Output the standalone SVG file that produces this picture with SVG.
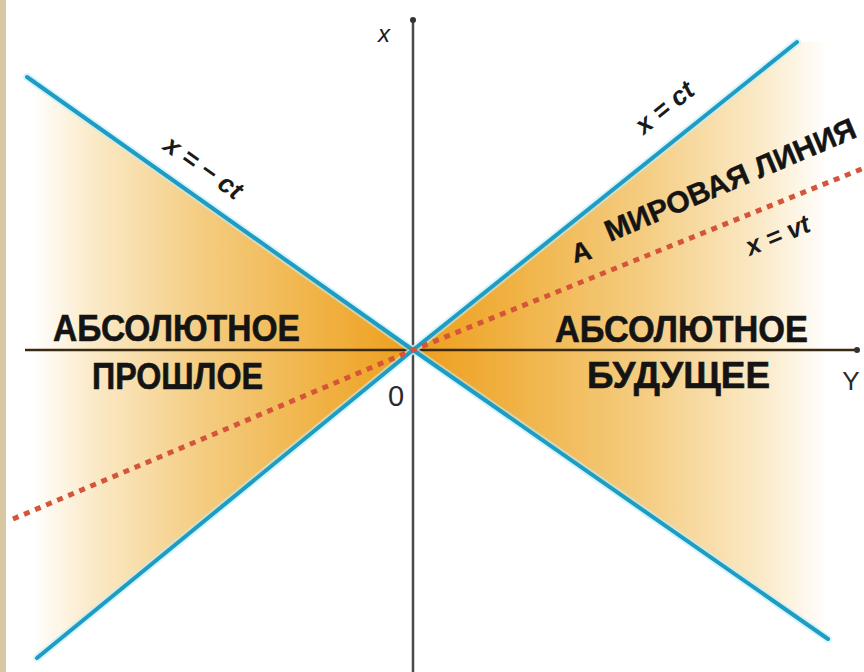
<svg xmlns="http://www.w3.org/2000/svg" width="864" height="672" viewBox="0 0 864 672">
  <defs>
    <linearGradient id="gPast" gradientUnits="userSpaceOnUse" x1="32" y1="0" x2="413" y2="0">
      <stop offset="0" stop-color="#FFFFFF"/>
      <stop offset="0.15" stop-color="#FBEBCB"/>
      <stop offset="0.45" stop-color="#F4CC80"/>
      <stop offset="0.78" stop-color="#F0B040"/>
      <stop offset="1" stop-color="#EE9E1C"/>
    </linearGradient>
    <linearGradient id="gFuture" gradientUnits="userSpaceOnUse" x1="413" y1="0" x2="828" y2="0">
      <stop offset="0" stop-color="#EE9E1C"/>
      <stop offset="0.22" stop-color="#F0B040"/>
      <stop offset="0.55" stop-color="#F4CC80"/>
      <stop offset="0.85" stop-color="#FBEBCB"/>
      <stop offset="1" stop-color="#FFFFFF"/>
    </linearGradient>
    <style>
      .cone { stroke: #1E9CC4; stroke-width: 4; stroke-linecap: round; fill: none; }
      .halo { stroke: #BDEFFA; stroke-width: 8; stroke-linecap: round; fill: none; opacity: 0.6; }
      .axis { stroke: #4A4A4A; stroke-width: 2.5; fill: none; }
      .haxis { stroke: #3A2A12; stroke-width: 2.5; fill: none; }
      .world { stroke: #D4553A; stroke-width: 5; stroke-dasharray: 6 6; fill: none; }
      .big { font-family: "Liberation Sans", Arial, sans-serif; font-weight: bold; font-size: 36px; fill: #141414; stroke: #141414; stroke-width: 0.6; }
      .lbl { font-family: "Liberation Sans", Arial, sans-serif; font-weight: bold; font-size: 30px; fill: #141414; stroke: #141414; stroke-width: 0.4; }
      .eq { font-family: "Liberation Sans", Arial, sans-serif; font-style: italic; font-weight: bold; font-size: 26px; fill: #1A1A1A; }
      .ax { font-family: "Liberation Sans", Arial, sans-serif; font-size: 26px; fill: #2A2A2A; }
    </style>
  </defs>

  <rect x="0" y="0" width="864" height="672" fill="#FFFFFF"/>
  <rect x="0" y="0" width="6" height="672" fill="#D8C8A2"/>

  <g id="past-region">
    <polygon points="27,77 413,350 37,658" fill="url(#gPast)"/>
  </g>
  <g id="future-region">
    <polygon points="413,350 797,42 828,42 828,639" fill="url(#gFuture)"/>
  </g>

  <g id="connectors">
    <g id="axes">
      <line class="axis" x1="413" y1="20" x2="413" y2="672"/>
      <circle cx="413" cy="20" r="3" fill="#333"/>
      <line class="haxis" x1="25" y1="350" x2="857" y2="350"/>
      <circle cx="857" cy="350" r="3" fill="#333"/>
    </g>
    <g id="light-cone">
      <line class="halo" x1="27" y1="77" x2="413" y2="350"/>
      <line class="halo" x1="37" y1="658" x2="413" y2="350"/>
      <line class="halo" x1="413" y1="350" x2="797" y2="42"/>
      <line class="halo" x1="413" y1="350" x2="828" y2="639"/>
      <line class="cone" x1="27" y1="77" x2="413" y2="350"/>
      <line class="cone" x1="37" y1="658" x2="413" y2="350"/>
      <line class="cone" x1="413" y1="350" x2="797" y2="42"/>
      <line class="cone" x1="413" y1="350" x2="828" y2="639"/>
    </g>
    <g id="world-line">
      <polyline class="world" points="13,519 413,350 864,168"/>
    </g>
  </g>

  <g id="axis-labels">
    <text class="eq" x="384" y="42" text-anchor="middle" style="font-weight:normal;font-size:24px">x</text>
    <text class="ax" x="396" y="406" text-anchor="middle" style="font-size:29px">0</text>
    <text class="ax" x="851" y="390" text-anchor="middle">Y</text>
  </g>

  <g id="eq-minus-ct">
    <text class="eq" transform="translate(203,168) rotate(35.3)" y="8" text-anchor="middle">x = − ct</text>
  </g>
  <g id="eq-ct">
    <text class="eq" transform="translate(665,108) rotate(-38.7)" y="8" text-anchor="middle">x = ct</text>
  </g>
  <g id="eq-vt">
    <text class="eq" transform="translate(778,236) rotate(-22)" y="8" text-anchor="middle">x = vt</text>
  </g>

  <g id="world-line-label">
    <text class="lbl" transform="translate(610,242) rotate(-23)" textLength="270" lengthAdjust="spacingAndGlyphs">МИРОВАЯ ЛИНИЯ</text>
  </g>
  <g id="point-A">
    <text class="lbl" transform="translate(581,251) rotate(-15)" y="10" text-anchor="middle" style="font-size:27px">A</text>
  </g>

  <g id="absolute-past">
    <text class="big" x="53" y="341" textLength="247" lengthAdjust="spacingAndGlyphs">АБСОЛЮТНОЕ</text>
    <text class="big" x="92" y="389" textLength="171" lengthAdjust="spacingAndGlyphs">ПРОШЛОЕ</text>
  </g>
  <g id="absolute-future">
    <text class="big" x="555" y="342" textLength="253" lengthAdjust="spacingAndGlyphs">АБСОЛЮТНОЕ</text>
    <text class="big" x="587" y="388" textLength="183" lengthAdjust="spacingAndGlyphs">БУДУЩЕЕ</text>
  </g>
</svg>
